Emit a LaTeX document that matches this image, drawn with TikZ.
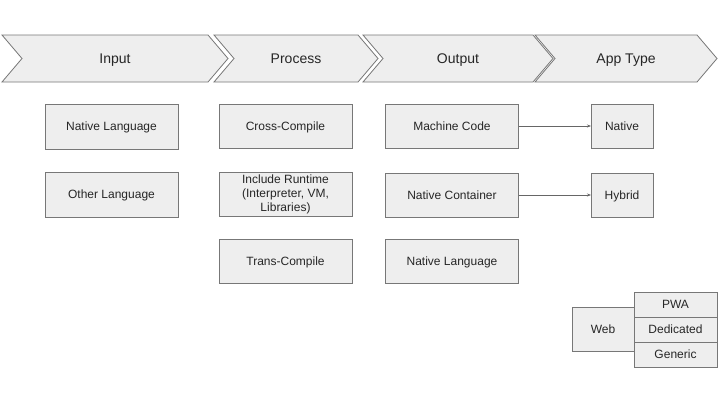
\documentclass[tikz,border=0pt]{standalone}
\usepackage{fontspec}
\setmainfont{Liberation Sans}
\usetikzlibrary{arrows.meta}
\definecolor{boxfill}{HTML}{EEEEEE}
\definecolor{boxline}{HTML}{777777}
\definecolor{arrowc}{HTML}{666666}
\tikzset{
  chev/.style={draw=boxline, fill=boxfill, line width=0.8pt, line join=miter},
  chevtext/.style={font=\fontsize{14}{16}\selectfont, text=black!85, inner sep=0pt,
    text height=10pt, text depth=0pt},
  box/.style={draw=boxline, fill=boxfill, line width=0.8pt, inner sep=0pt, outer sep=0pt,
    minimum width=133pt, minimum height=44pt, align=center,
    font=\fontsize{12}{14}\selectfont, text=black!85},
  onebox/.style={box, text height=8.6pt, text depth=0pt},
  smallbox/.style={onebox, minimum width=62pt},
  subbox/.style={onebox, minimum width=83pt, minimum height=25pt},
  conn/.style={draw=arrowc, line width=0.6pt, -{Stealth[length=4pt,width=3pt]}}
}
\begin{document}
\begin{tikzpicture}[x=1pt,y=-1pt]
\useasboundingbox (0,0) rectangle (720,405);
\fill[white] (0,0) rectangle (720,405);
% chevrons
\draw[chev] (2,35) -- (208,35) -- (228,58.5) -- (208,82) -- (2,82) -- (22,58.5) -- cycle;
\draw[chev] (214,35) -- (358,35) -- (378,58.5) -- (358,82) -- (214,82) -- (234,58.5) -- cycle;
\draw[chev] (363,35) -- (533,35) -- (553,58.5) -- (533,82) -- (363,82) -- (383,58.5) -- cycle;
\draw[chev] (535,35) -- (697,35) -- (717,58.5) -- (697,82) -- (535,82) -- (555,58.5) -- cycle;
\node[chevtext] (hInput) at (115,58.5) {Input};
\node[chevtext] (hProcess) at (296,58.5) {Process};
\node[chevtext] (hOutput) at (458,58.5) {Output};
\node[chevtext] (hApp) at (626,58.5) {App Type};
% input
\node[onebox, minimum height=45pt] (inNative) at (111.5,126.5) {Native Language};
\node[onebox, minimum height=45pt] (inOther) at (111.5,194.5) {Other Language};
% process
\node[onebox] (cross) at (285.5,126) {Cross-Compile};
\node[box] (runtime) at (285.5,194.5) {Include Runtime\\(Interpreter, VM,\\Libraries)};
\node[onebox] (trans) at (285.5,261) {Trans-Compile};
% output
\node[onebox] (machine) at (452,126) {Machine Code};
\node[onebox] (container) at (452,195) {Native Container};
\node[onebox] (outNative) at (452,261) {Native Language};
% app type
\node[smallbox] (native) at (622,126) {Native};
\node[smallbox] (hybrid) at (622,195) {Hybrid};
\node[smallbox] (web) at (603,329) {Web};
\node[subbox] (pwa) at (675.5,304.5) {PWA};
\node[subbox] (dedicated) at (675.5,329.5) {Dedicated};
\node[subbox] (generic) at (675.5,354.5) {Generic};
% connectors
\draw[conn] (machine) -- (native);
\draw[conn] (container) -- (hybrid);
\end{tikzpicture}
\end{document}
